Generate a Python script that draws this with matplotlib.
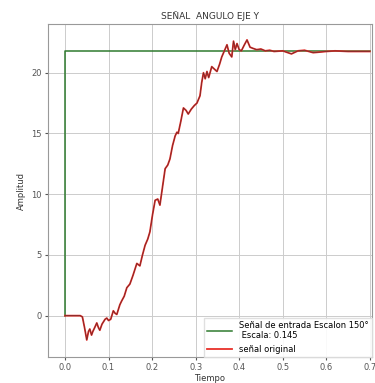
import matplotlib
matplotlib.use("Agg")
import matplotlib.pyplot as plt

# Data
step_t = [0.0, 0.0, 0.7]
step_v = [0.0, 21.75, 21.75]

sig_t = [0.000, 0.035, 0.040, 0.045, 0.050, 0.054, 0.057, 0.061, 0.064, 0.068,
         0.073, 0.077, 0.080, 0.085, 0.092, 0.096, 0.100, 0.105, 0.111, 0.115,
         0.119, 0.126, 0.130, 0.136, 0.142, 0.149, 0.156, 0.165, 0.172, 0.178,
         0.184, 0.190, 0.195, 0.201, 0.207, 0.213, 0.218, 0.224, 0.230, 0.236,
         0.241, 0.247, 0.253, 0.257, 0.260, 0.266, 0.272, 0.278, 0.283, 0.290,
         0.297, 0.303, 0.310, 0.314, 0.318, 0.322, 0.326, 0.330, 0.337, 0.343,
         0.349, 0.355, 0.360, 0.366, 0.372, 0.377, 0.383, 0.387, 0.391, 0.395,
         0.400, 0.405, 0.412, 0.418, 0.425, 0.432, 0.440, 0.450, 0.460, 0.470,
         0.480, 0.500, 0.520, 0.535, 0.550, 0.570, 0.600, 0.620, 0.650, 0.700]
sig_v = [0.0, 0.0, -0.1, -1.0, -2.0, -1.3, -1.1, -1.6, -1.3, -1.0,
         -0.6, -1.0, -1.2, -0.7, -0.3, -0.2, -0.4, -0.3, 0.4, 0.2,
         0.1, 0.9, 1.2, 1.6, 2.3, 2.6, 3.3, 4.3, 4.1, 5.0,
         5.8, 6.3, 6.9, 8.3, 9.5, 9.6, 9.1, 10.6, 12.1, 12.4,
         12.9, 14.0, 14.8, 15.1, 15.0, 16.0, 17.1, 16.9, 16.6, 17.0,
         17.3, 17.5, 18.1, 19.2, 20.0, 19.5, 20.1, 19.6, 20.5, 20.3,
         20.1, 20.7, 21.3, 21.8, 22.3, 21.6, 21.3, 22.6, 21.9, 22.4,
         21.9, 21.8, 22.3, 22.7, 22.1, 22.0, 21.9, 21.95, 21.8, 21.85,
         21.75, 21.8, 21.55, 21.8, 21.85, 21.65, 21.75, 21.8, 21.75, 21.75]

xticks = [0.0, 0.1, 0.2, 0.3, 0.4, 0.5, 0.6, 0.7]
yticks = [0, 5, 10, 15, 20]

fig = plt.figure(figsize=(3.75, 3.83), dpi=100)
ax = fig.add_axes([0.128, 0.068, 0.864, 0.869])

ax.plot(step_t, step_v, color="#2f7a2f", lw=1.1,
        label="Señal de entrada Escalon 150°\n Escala: 0.145")
ax.plot(sig_t, sig_v, color="#e8302a", lw=1.3, label="señal original")
ax.plot(sig_t, sig_v, color="#6a2a2a", lw=0.5)

ax.set_xlim(-0.039, 0.705)
ax.set_ylim(-3.4, 24.0)
ax.set_xticks(xticks)
ax.set_yticks(yticks)
ax.tick_params(labelsize=6, length=2.5, pad=2, colors="#555555")
ax.grid(True, color="#cccccc", lw=0.7)
for s in ax.spines.values():
    s.set_color("#999999")

ax.set_title("SEÑAL  ANGULO EJE Y", fontsize=6.5, pad=4, color="#333333")
ax.set_xlabel("Tiempo", fontsize=6, labelpad=1, color="#333333")
ax.set_ylabel("Amplitud", fontsize=6, labelpad=4, color="#333333")

ax.legend(loc="lower right", fontsize=6, frameon=True, framealpha=0.9,
          edgecolor="#dddddd", fancybox=False, handlelength=3,
          borderaxespad=0.0)

fig.savefig("out.png", dpi=100)
